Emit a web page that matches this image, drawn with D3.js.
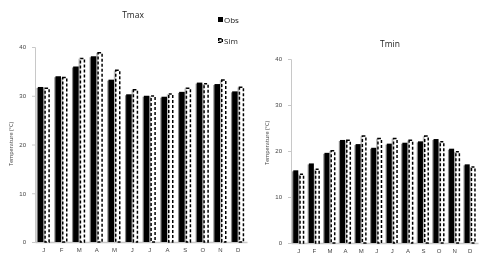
<!DOCTYPE html>
<html>
<head>
<meta charset="utf-8">
<script src="https://cdn.jsdelivr.net/npm/d3@7"></script>
<style>
  body { margin: 0; background: #fff; }
  svg { display: block; font-family: "Open Sans", "Liberation Sans", sans-serif; will-change: transform; }
</style>
</head>
<body>
<svg id="chart" width="500" height="258"></svg>
<script>
'use strict';

const months = ['J', 'F', 'M', 'A', 'M', 'J', 'J', 'A', 'S', 'O', 'N', 'D'];
const yTicks = [0, 10, 20, 30, 40];
const tmaxObs = [31.8, 34.0, 36.0, 38.1, 33.3, 30.3, 30.0, 29.8, 30.8, 32.7, 32.4, 30.9];
const tmaxSim = [31.7, 33.9, 37.8, 39.0, 35.4, 31.4, 30.1, 30.5, 31.7, 32.6, 33.4, 31.9];
const tminObs = [15.8, 17.3, 19.6, 22.4, 21.5, 20.7, 21.6, 21.8, 22.1, 22.6, 20.5, 17.1];
const tminSim = [15.1, 16.2, 20.2, 22.5, 23.4, 22.9, 22.9, 22.5, 23.4, 22.2, 20.0, 16.7];

const svg = d3.select('#chart');

function drawPanel(opts) {
  const x = d3.scaleBand()
    .domain(d3.range(months.length))
    .range([opts.left, opts.right]);

  const y = d3.scaleLinear()
    .domain([0, 40])
    .range([opts.bottom, opts.top]);

  const g = svg.append('g');
  const bw = opts.barWidth;

  // y axis
  const yAxis = d3.axisLeft(y)
    .tickValues(yTicks)
    .tickSize(3)
    .tickPadding(6);
  const ya = g.append('g')
    .attr('transform', `translate(${opts.left}, 0)`)
    .call(yAxis);
  ya.select('.domain').attr('stroke', '#c8c8c8');
  ya.selectAll('.tick line').attr('stroke', '#c8c8c8');
  ya.selectAll('.tick text').attr('fill', '#444').style('font-size', '6px');

  // x axis
  const xAxis = d3.axisBottom(x)
    .tickFormat(i => months[i])
    .tickSize(0)
    .tickPadding(6);
  const xa = g.append('g')
    .attr('transform', `translate(0, ${opts.bottom})`)
    .call(xAxis);
  xa.select('.domain').attr('stroke', '#c8c8c8').attr('stroke-width', 1.5);
  xa.selectAll('.tick text').attr('fill', '#444').style('font-size', '6px');

  const idx = d3.range(months.length);

  // shadows
  g.selectAll('.obs-shadow')
    .data(idx).enter().append('rect')
    .attr('x', i => x(i) + x.bandwidth() / 2 - bw - 0.5 - 1.2)
    .attr('y', i => y(opts.obs[i]) + 1)
    .attr('width', bw)
    .attr('height', i => y(0) - y(opts.obs[i]) - 1)
    .attr('fill', '#8a8a8a');

  g.selectAll('.sim-shadow')
    .data(idx).enter().append('rect')
    .attr('x', i => x(i) + x.bandwidth() / 2 + 0.5 - 1.2)
    .attr('y', i => y(opts.sim[i]) + 1)
    .attr('width', bw)
    .attr('height', i => y(0) - y(opts.sim[i]) - 1)
    .attr('fill', '#bdbdbd');

  // observed bars
  g.selectAll('.obs')
    .data(idx).enter().append('rect')
    .attr('x', i => x(i) + x.bandwidth() / 2 - bw - 0.5)
    .attr('y', i => y(opts.obs[i]))
    .attr('width', bw)
    .attr('height', i => y(0) - y(opts.obs[i]))
    .attr('fill', '#000');

  // simulated bars
  g.selectAll('.sim')
    .data(idx).enter().append('rect')
    .attr('x', i => x(i) + x.bandwidth() / 2 + 0.5 + 0.75)
    .attr('y', i => y(opts.sim[i]) + 0.75)
    .attr('width', bw - 1.5)
    .attr('height', i => y(0) - y(opts.sim[i]) - 0.75)
    .attr('fill', '#fff')
    .attr('stroke', '#000')
    .attr('stroke-width', 1.5)
    .attr('stroke-dasharray', '3,2');

  // title
  svg.append('text')
    .attr('x', opts.titleX)
    .attr('y', opts.titleY)
    .attr('text-anchor', 'middle')
    .attr('fill', '#222')
    .style('font-size', '8.5px')
    .text(opts.title);

  // y axis title
  svg.append('text')
    .attr('transform', `translate(${opts.yTitleX}, ${opts.yTitleY}) rotate(-90)`)
    .attr('text-anchor', 'middle')
    .attr('fill', '#444')
    .style('font-size', '5.5px')
    .text('Temperature (°C)');
}

drawPanel({
  left: 35, right: 247, top: 47, bottom: 242, barWidth: 5.5,
  obs: tmaxObs, sim: tmaxSim,
  title: 'Tmax', titleX: 133, titleY: 18,
  yTitleX: 13, yTitleY: 144
});

drawPanel({
  left: 291, right: 478, top: 59, bottom: 243, barWidth: 5,
  obs: tminObs, sim: tminSim,
  title: 'Tmin', titleX: 390, titleY: 47,
  yTitleX: 269, yTitleY: 143
});

// legend
const legendItems = ['Obs', 'Sim'];
const legend = svg.append('g');
legendItems.forEach((name, i) => {
  const ly = 20 + i * 21;
  if (i === 0) {
    legend.append('rect')
      .attr('x', 218).attr('y', ly - 3).attr('width', 5).attr('height', 5)
      .attr('fill', '#000');
  } else {
    legend.append('rect')
      .attr('x', 218.7).attr('y', ly - 2.3).attr('width', 3.6).attr('height', 3.6)
      .attr('fill', '#fff').attr('stroke', '#000').attr('stroke-width', 1.4)
      .attr('stroke-dasharray', '3,1');
  }
  legend.append('text')
    .attr('x', 224).attr('y', ly + 2.5)
    .attr('fill', '#222')
    .style('font-size', '8px')
    .text(name);
});
</script>
</body>
</html>
